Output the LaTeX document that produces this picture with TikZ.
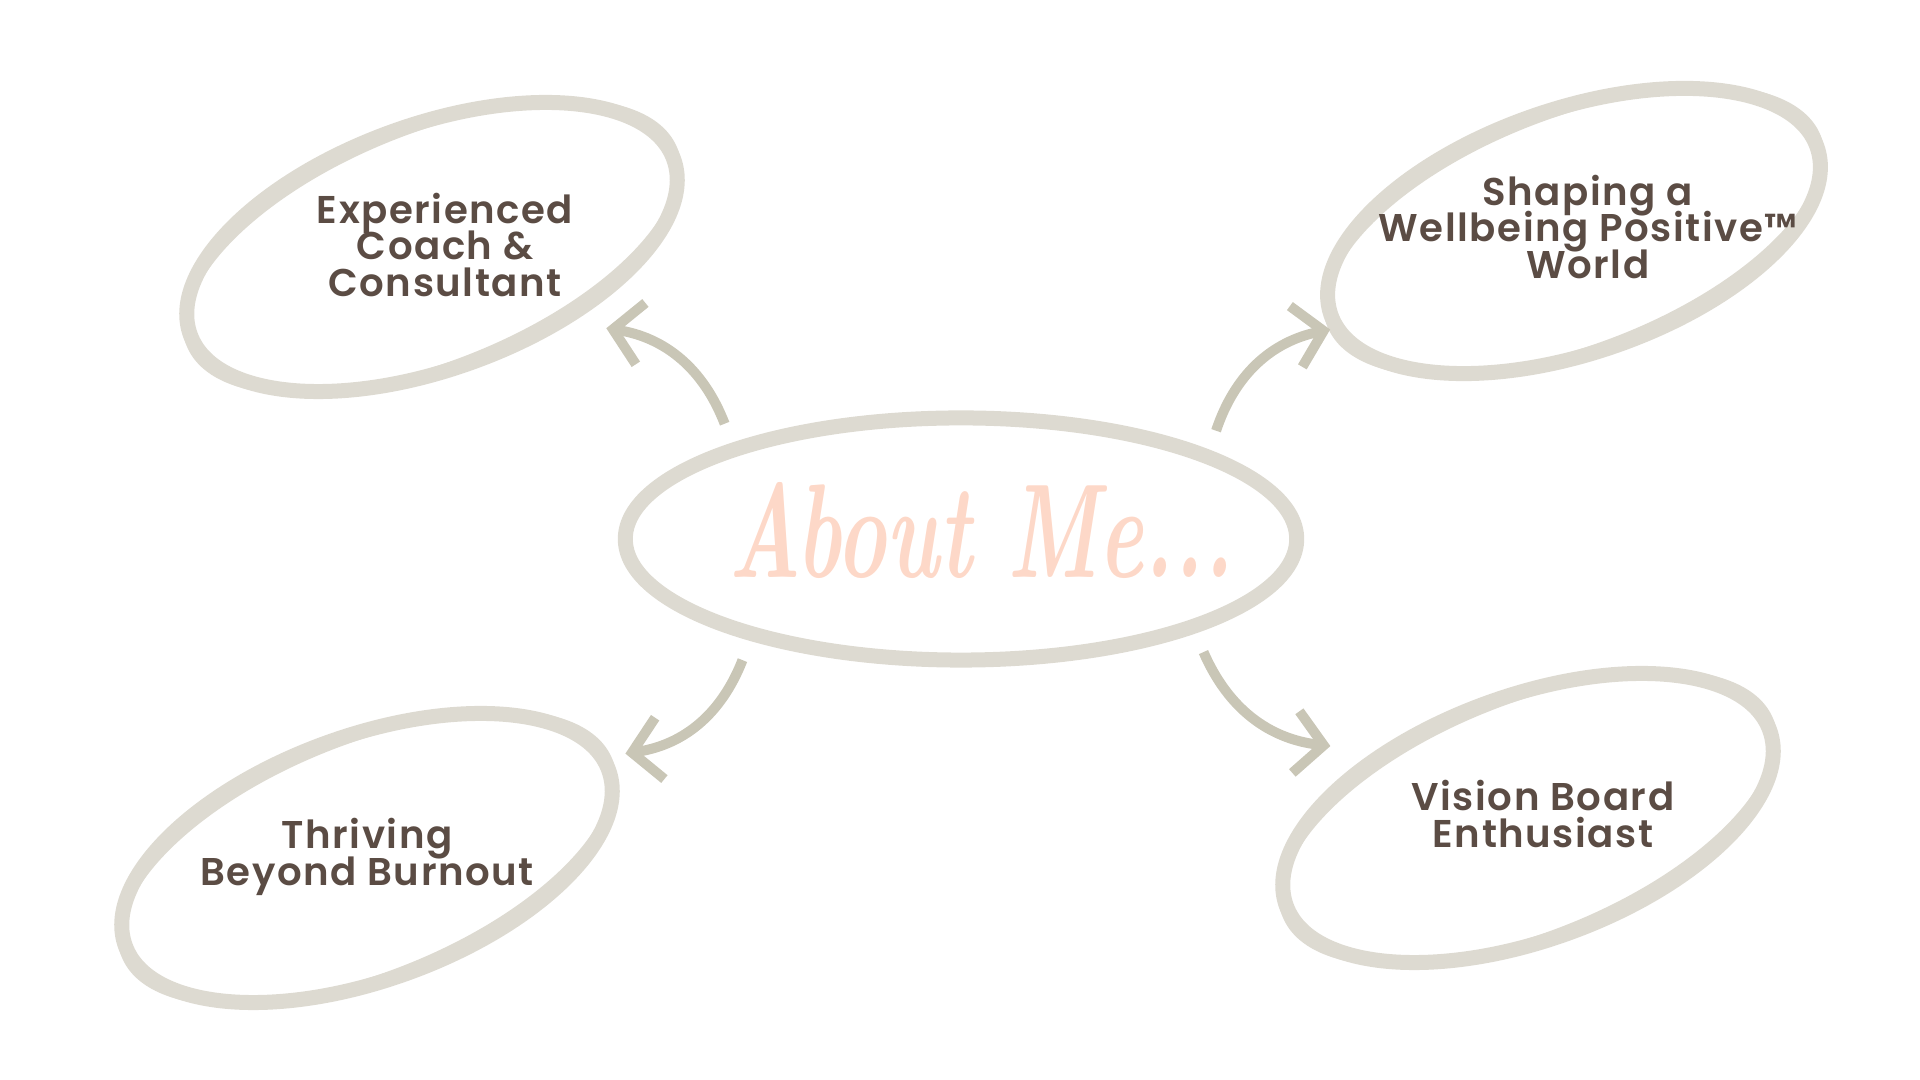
\documentclass[tikz,border=0pt]{standalone}
\usepackage{fontspec}
\usetikzlibrary{shapes.geometric,arrows.meta}
\newfontfamily\labelfont{Poppins}[LetterSpace=4, BoldFont={Poppins SemiBold}]
\newcommand\tightlines{\lineskiplimit=-20pt\relax}
\definecolor{brushgray}{RGB}{221,218,209}
\definecolor{arrowgray}{RGB}{201,198,182}
\definecolor{labelbrown}{RGB}{91,76,68}
\definecolor{peach}{RGB}{253,216,200}

\begin{document}
\begin{tikzpicture}[x=0.01cm, y=-0.01cm,
    brush/.style={ellipse, draw=brushgray, line width=0.15cm, inner sep=0pt, outer sep=0pt},
    bubble/.style={brush, minimum width=5.14cm, minimum height=2.44cm},
    brush thin/.style={draw=brushgray, line width=0.05cm},
    label text/.style={text=labelbrown, align=center,
      font=\tightlines\labelfont\bfseries\fontsize{11}{10.4}\selectfont},
    pointer/.style={draw=arrowgray, line width=0.1cm,
      -{Straight Barb[length=0.28cm, width=0.62cm]}}]
  \useasboundingbox (0,0) rectangle (1920,1080);

  % centre bubble
  \node[brush, minimum width=6.71cm, minimum height=2.42cm, outer sep=0.3cm] (me) at (961,539) {};
  \draw[brush thin] (me.center) ellipse (338 and 118);
  \node[anchor=base, text=peach] (title) at (981,578)
    {\resizebox{5.05cm}{0.95cm}{\bfseries\itshape About Me...}};

  % outer bubbles
  \node[bubble, rotate=20, outer sep=0.32cm] (tl) at (432,247) {};
  \node[bubble, rotate=19, outer sep=0.07cm] (tr) at (1574,231) {};
  \node[bubble, rotate=20, outer sep=0.22cm] (bl) at (367,858) {};
  \node[bubble, rotate=20, outer sep=0.39cm] (br) at (1528,818) {};
  \foreach \n/\r in {tl/22, tr/21, bl/22, br/22}
    \draw[brush thin, rotate=\r] (\n.center) ellipse (262 and 116);

  % labels
  \node[label text] (tltext) at (445,245) {Experienced\\Coach \&\\Consultant};
  \node[label text] (trtext) at (1588,227) {Shaping a\\Wellbeing Positive™\\World};
  \node[label text] (bltext) at (367,857) {Thriving\\Beyond Burnout};
  \node[label text] (brtext) at (1543,814) {Vision Board\\Enthusiast};

  % arrows
  \draw[pointer] (me.154) to[bend right=30] (tl.-45);
  \draw[pointer] (me.23) to[bend left=30] (tr.183);
  \draw[pointer] (me.209) to[bend left=30] (bl.2);
  \draw[pointer] (me.-25) to[bend right=30] (br.140);
\end{tikzpicture}
\end{document}
